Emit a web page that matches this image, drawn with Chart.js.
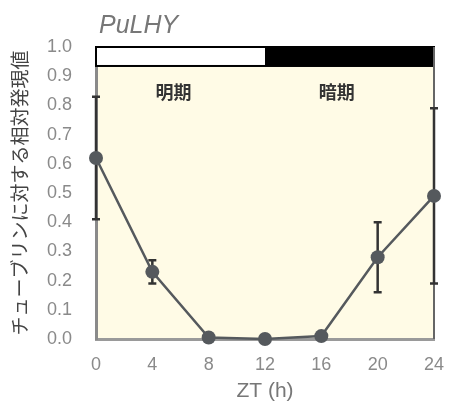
<!DOCTYPE html>
<html>
<head>
<meta charset="utf-8">
<script src="https://cdn.jsdelivr.net/npm/chart.js@4/dist/chart.umd.min.js"></script>
<style>
  html, body { margin: 0; padding: 0; background: #fff; }
  #wrap { width: 449px; height: 405px; }
</style>
</head>
<body>
<div id="wrap"><canvas id="chart" width="449" height="405"></canvas></div>
<script>
// data
const zt = [0, 4, 8, 12, 16, 20, 24];
const expression = [0.62, 0.23, 0.005, 0.0, 0.01, 0.28, 0.49];
const errLow = [0.41, 0.19, 0.005, 0.0, 0.01, 0.16, 0.19];
const errHigh = [0.83, 0.27, 0.005, 0.0, 0.01, 0.40, 0.79];
const xTicks = [0, 4, 8, 12, 16, 20, 24];
const yTicks = [0, 0.1, 0.2, 0.3, 0.4, 0.5, 0.6, 0.7, 0.8, 0.9, 1.0];
const phaseNames = ['明期', '暗期'];
const phaseStart = [0, 12];
const phaseEnd = [12, 24];

const GRAY_TEXT = '#8a8a8a';
const LINE = '#55595d';

// cream background, light/dark bar, phase labels, title
const decor = {
  id: 'decor',
  beforeDraw(chart) {
    const { ctx, chartArea: a } = chart;
    ctx.save();
    ctx.fillStyle = '#fffbe6';
    ctx.fillRect(a.left, a.top, a.right - a.left, a.bottom - a.top);
    ctx.restore();
  },
  beforeDatasetsDraw(chart) {
    const { ctx, chartArea: a, scales: { x, y } } = chart;
    const top = y.getPixelForValue(1.0);
    const bot = y.getPixelForValue(0.935);
    ctx.save();
    // light / dark bar
    for (let i = 0; i < phaseNames.length; i++) {
      const x0 = x.getPixelForValue(phaseStart[i]);
      const x1 = x.getPixelForValue(phaseEnd[i]);
      ctx.fillStyle = i === 0 ? '#ffffff' : '#000000';
      ctx.fillRect(x0, top, x1 - x0, bot - top);
    }
    ctx.strokeStyle = '#000';
    ctx.lineWidth = 2;
    ctx.strokeRect(a.left, top, a.right - a.left, bot - top);

    // right frame line
    ctx.strokeStyle = '#666';
    ctx.lineWidth = 2;
    ctx.beginPath();
    ctx.moveTo(a.right, top);
    ctx.lineTo(a.right, a.bottom);
    ctx.stroke();

    // phase labels
    const labelX = [5.5, 17.1];
    ctx.fillStyle = '#333';
    ctx.font = 'bold 18px "Noto Sans CJK JP"';
    ctx.textAlign = 'center';
    ctx.textBaseline = 'middle';
    phaseNames.forEach((t, i) => {
      ctx.fillText(t, x.getPixelForValue(labelX[i]), y.getPixelForValue(0.845));
    });

    // error bars
    ctx.strokeStyle = '#333';
    ctx.lineWidth = 2.5;
    zt.forEach((v, i) => {
      if (errHigh[i] - errLow[i] < 0.02) return;
      const px = x.getPixelForValue(v);
      const yl = y.getPixelForValue(errLow[i]);
      const yh = y.getPixelForValue(errHigh[i]);
      ctx.beginPath();
      ctx.moveTo(px, yl); ctx.lineTo(px, yh);
      ctx.moveTo(px - 4, yl); ctx.lineTo(px + 4, yl);
      ctx.moveTo(px - 4, yh); ctx.lineTo(px + 4, yh);
      ctx.stroke();
    });
    ctx.restore();
  },
  afterDraw(chart) {
    const { ctx } = chart;
    ctx.save();
    ctx.fillStyle = '#777';
    ctx.font = 'italic 25px "Liberation Sans"';
    ctx.textAlign = 'left';
    ctx.textBaseline = 'alphabetic';
    ctx.fillText('PuLHY', 99, 33);
    ctx.restore();
  }
};

new Chart(document.getElementById('chart'), {
  type: 'line',
  data: {
    datasets: [{
      data: zt.map((v, i) => ({ x: v, y: expression[i] })),
      borderColor: LINE,
      backgroundColor: LINE,
      borderWidth: 2.5,
      pointRadius: 7,
      pointBackgroundColor: LINE,
      pointBorderWidth: 0,
      tension: 0,
      clip: false
    }]
  },
  options: {
    responsive: false,
    devicePixelRatio: 1,
    animation: false,
    layout: { padding: { left: 0, right: 15, top: 47, bottom: 0 } },
    plugins: { legend: { display: false }, tooltip: { enabled: false }, title: { display: false } },
    scales: {
      x: {
        type: 'linear',
        min: 0, max: 24,
        afterBuildTicks: s => { s.ticks = xTicks.map(v => ({ value: v })); },
        afterFit: s => { s.height = 66; s.paddingLeft = 0; s.paddingRight = 0; },
        grid: { display: false, drawTicks: false },
        border: { color: '#9a9a9a', width: 3 },
        ticks: { color: GRAY_TEXT, font: { family: 'Liberation Sans', size: 18 }, padding: 15 },
        title: {
          display: true, text: 'ZT (h)', color: '#777',
          font: { family: 'Liberation Sans', size: 21 }, padding: { top: 0, bottom: 1 }
        }
      },
      y: {
        min: 0, max: 1.0,
        afterBuildTicks: s => { s.ticks = yTicks.map(v => ({ value: v })); },
        afterFit: s => { s.width = 96; s.paddingTop = 0; s.paddingBottom = 0; },
        grid: { display: false, drawTicks: false },
        border: { color: '#8a8a8a', width: 3 },
        ticks: {
          color: GRAY_TEXT, font: { family: 'Liberation Sans', size: 18 }, padding: 24,
          callback: v => v.toFixed(1)
        },
        title: {
          display: true, text: 'チューブリンに対する相対発現値', color: '#444',
          font: { family: 'Noto Sans CJK JP', size: 19 }, padding: { top: 8, bottom: 0 }
        }
      }
    }
  },
  plugins: [decor]
});
</script>
</body>
</html>
